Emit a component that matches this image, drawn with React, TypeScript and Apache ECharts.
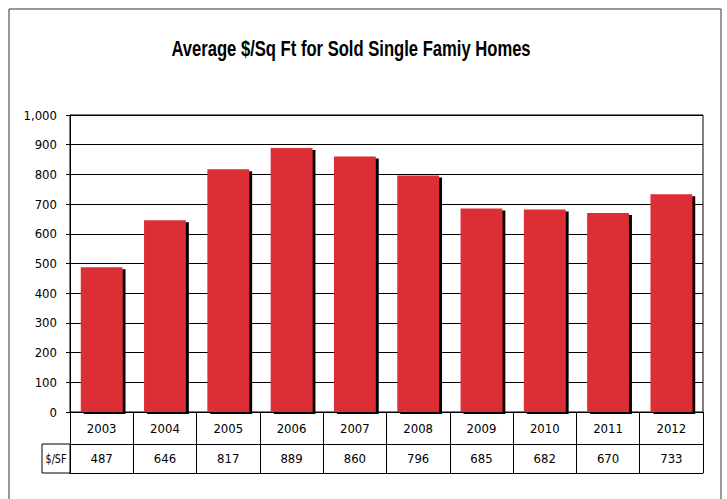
import React, { useEffect, useRef } from "react";
import * as echarts from "echarts";

const years = ["2003", "2004", "2005", "2006", "2007", "2008", "2009", "2010", "2011", "2012"];
const pricePerSqFt = [487, 646, 817, 889, 860, 796, 685, 682, 670, 733];
const titleText = "Average $/Sq Ft for Sold Single Famiy Homes";
const rowLabel = "$/SF";

const FONT = "'DejaVu Sans Condensed', 'Liberation Sans', sans-serif";
const TITLE_FONT = "'Liberation Sans', 'Roboto', sans-serif";

export default function App() {
  const ref = useRef<HTMLDivElement>(null);
  useEffect(() => {
    if (!ref.current) return;
    const chart = echarts.init(ref.current, undefined, { renderer: "svg" });
    chart.setOption({
      animation: false,
      backgroundColor: "#fff",
      grid: {
        left: 70,
        right: 24,
        top: 115,
        bottom: 87,
        show: true,
        borderColor: "#000",
        borderWidth: 1,
        containLabel: false,
      },
      xAxis: [
        {
          type: "category",
          data: years,
          position: "bottom",
          axisLine: { show: true, lineStyle: { color: "#000", width: 1 } },
          axisTick: { show: true, length: 61, lineStyle: { color: "#000", width: 1 } },
          axisLabel: { margin: 10, fontFamily: FONT, fontSize: 13, color: "#000" },
        },
        {
          type: "category",
          data: pricePerSqFt.map(String),
          position: "bottom",
          offset: 32,
          axisLine: { show: true, lineStyle: { color: "#000", width: 1 } },
          axisTick: { show: false },
          axisLabel: { margin: 8, fontFamily: FONT, fontSize: 13, color: "#000" },
        },
        {
          type: "category",
          data: years,
          position: "bottom",
          offset: 61,
          axisLine: { show: true, lineStyle: { color: "#000", width: 1 } },
          axisTick: { show: false },
          axisLabel: { show: false },
        },
      ],
      yAxis: {
        type: "value",
        min: 0,
        max: 1000,
        interval: 100,
        axisLine: { show: true, lineStyle: { color: "#000", width: 1 } },
        axisTick: { show: true, length: 4, lineStyle: { color: "#000" } },
        axisLabel: {
          margin: 13,
          fontFamily: FONT,
          fontSize: 13,
          color: "#000",
          formatter: (v: number) => v.toLocaleString("en-US"),
        },
        splitLine: { show: true, lineStyle: { color: "#000", width: 1 } },
      },
      series: [
        {
          type: "bar",
          xAxisIndex: 0,
          data: pricePerSqFt,
          barCategoryGap: "34%",
          itemStyle: {
            color: "#dc2d35",
            shadowColor: "rgba(0,0,0,1)",
            shadowBlur: 1,
            shadowOffsetX: 3,
            shadowOffsetY: 2,
          },
        },
      ],
      graphic: [
        {
          type: "rect",
          shape: { x: 9, y: 9, width: 712, height: 520 },
          style: { fill: "none", stroke: "#333", lineWidth: 1 },
          silent: true,
        },
        {
          type: "text",
          x: 351,
          y: 48,
          scaleX: 0.755,
          style: {
            text: titleText,
            fontFamily: TITLE_FONT,
            fontWeight: "bold",
            fontSize: 22,
            fill: "#000",
            align: "center",
            verticalAlign: "middle",
          },
          silent: true,
        },
        {
          type: "rect",
          shape: { x: 42, y: 444, width: 28, height: 29 },
          style: { fill: "none", stroke: "#000", lineWidth: 1 },
          silent: true,
        },
        {
          type: "text",
          x: 56,
          y: 458.5,
          scaleX: 0.82,
          style: {
            text: rowLabel,
            fontFamily: FONT,
            fontSize: 13,
            fill: "#000",
            align: "center",
            verticalAlign: "middle",
          },
          silent: true,
        },
      ],
    });
    return () => chart.dispose();
  }, []);
  return (
    <div
      ref={ref}
      style={{ position: "fixed", left: 0, top: 0, width: 727, height: 499 }}
    />
  );
}
